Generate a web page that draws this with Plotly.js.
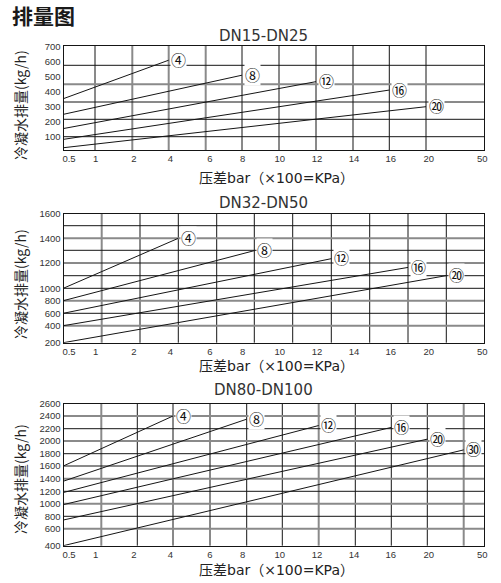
<!DOCTYPE html>
<html><head><meta charset="utf-8">
<script src="https://cdn.plot.ly/plotly-3.0.1.min.js"></script>
<style>html,body{margin:0;padding:0;background:#fff}#chart{width:501px;height:583px}</style>
</head><body><div id="chart"></div>
<script>
// ================= DATA =================
const startPressure = 0.5; // bar – every curve starts here

// DN15-DN25
const dn15Labels = ['④', '⑧', '⑫', '⑯', '⑳'];
const dn15EndPressure = [4, 8, 12, 16, 20];
const dn15StartFlow = [355, 250, 155, 83, 27];
const dn15EndFlow = [610, 510, 467, 411, 300];

// DN32-DN50
const dn32Labels = ['④', '⑧', '⑫', '⑯', '⑳'];
const dn32EndPressure = [4, 8, 12, 16, 20];
const dn32StartFlow = [1000, 800, 600, 400, 200];
const dn32EndFlow = [1400, 1300, 1235, 1165, 1100];

// DN80-DN100
const dn80Labels = ['④', '⑧', '⑫', '⑯', '⑳', '㉚'];
const dn80EndPressure = [4, 8, 12, 16, 20, 30];
const dn80StartFlow = [1600, 1360, 1180, 985, 740, 400];
const dn80EndFlow = [2400, 2350, 2250, 2220, 2030, 1860];

// tick labels
const xTickText = ['0.5', '1', '2', '4', '6', '8', '10', '12', '14', '16', '20', '50'];
const dn15YTicks = [100, 200, 300, 400, 500, 600, 700];
const dn32YTicks = [200, 400, 600, 800, 1000, 1200, 1400, 1600];
const dn80YTicks = [400, 600, 800, 1000, 1200, 1400, 1600, 1800, 2000, 2200, 2400, 2600];

const mainTitle = '排量图';
const xTitle = '压差bar（×100=KPa）';
const yTitle = '冷凝水排量(kg/h)';

// ================= LAYOUT GEOMETRY (page pixels) =================
const W = 501, H = 583;
const PLOT_LEFT = 63.5, PLOT_RIGHT = 484;
const X_TICK_LABEL_POS = [69, 95.7, 134, 170.3, 210, 242.7, 279.7, 317, 354, 390.7, 428.7, 482.3];

const panels = [
  {
    title: 'DN15-DN25', labels: dn15Labels, endP: dn15EndPressure, start: dn15StartFlow, end: dn15EndFlow,
    yTicks: dn15YTicks, top: 46, bottom: 150, titleY: 36, xTitleY: 178.3, yTitleY: 105,
    // piecewise scale knots: pressure -> px
    xKnotP: [0.5, 1, 2, 4, 6, 8, 10, 12, 14, 16, 20, 50],
    xKnotPos: [64, 95, 132.3, 168.7, 205.7, 242, 279, 316, 353, 389.3, 426, 484],
    xGridGray: [2, 4, 6, 14],
    // flow -> px
    yKnotV: [100, 700], yKnotPos: [136.7, 46.7],
    yGridPos: [65.3, 84.3, 102, 119.3, 136.7], yGridGray: [84.3]
  },
  {
    title: 'DN32-DN50', labels: dn32Labels, endP: dn32EndPressure, start: dn32StartFlow, end: dn32EndFlow,
    yTicks: dn32YTicks, top: 214, bottom: 342.7, titleY: 203.3, xTitleY: 366, yTitleY: 284,
    xKnotP: [0.5, 1, 2, 4, 6, 8, 10, 12, 14, 16, 20, 50],
    xKnotPos: [63.3, 101.7, 140, 178.3, 216.7, 254.3, 292.7, 331.3, 369.7, 408, 446.3, 484.3],
    xGridGray: [1, 2],
    yKnotV: [200, 400, 600, 800, 1000, 1200, 1400, 1600],
    yKnotPos: [342.7, 325.7, 313.3, 300.7, 288.3, 263, 238.3, 214],
    yGridPos: [225.7, 238.3, 250.3, 263, 275.7, 288.3, 300.7, 313.3, 325.7], yGridGray: [238.3, 300.7, 325.7]
  },
  {
    title: 'DN80-DN100', labels: dn80Labels, endP: dn80EndPressure, start: dn80StartFlow, end: dn80EndFlow,
    yTicks: dn80YTicks, top: 404, bottom: 545.7, titleY: 390, xTitleY: 570, yTitleY: 479,
    xKnotP: [0.5, 1, 2, 4, 6, 8, 10, 12, 14, 16, 20, 30, 50],
    xKnotPos: [63.3, 101.3, 137.3, 173, 210, 246.7, 282.3, 318.7, 355.3, 391.3, 427.3, 463.7, 483],
    xGridGray: [1, 12, 30],
    yKnotV: [400, 600, 800, 1000, 1200, 1400, 1600, 1800, 2000, 2200, 2400, 2600],
    yKnotPos: [545.7, 528.7, 516.3, 503.7, 491.3, 478.7, 466, 453.7, 441, 428.7, 416, 404],
    yGridPos: [416, 428.7, 441, 453.7, 466, 478.7, 491.3, 503.7, 516.3, 528.7], yGridGray: [416, 441, 478.7, 503.7, 528.7]
  }
];

// piecewise-linear scale with linear extrapolation
function scale(knots, pos) {
  return function (v) {
    let i = 0;
    while (i < knots.length - 2 && v > knots[i + 1]) i++;
    const t = (v - knots[i]) / (knots[i + 1] - knots[i]);
    return pos[i] + t * (pos[i + 1] - pos[i]);
  };
}

const BLACK = '#151515', GRAY = '#8a8a8a';
const TEXT = '#222';
const CJK = 'Noto Sans CJK SC, Noto Sans, sans-serif';
const traces = [], shapes = [], annotations = [];
const layout = {
  width: W, height: H, margin: {l: 0, r: 0, t: 0, b: 0},
  paper_bgcolor: '#fff', plot_bgcolor: '#fff', showlegend: false,
  font: {family: 'Liberation Sans, Arial, sans-serif', color: TEXT}
};

panels.forEach((p, k) => {
  const n = k === 0 ? '' : String(k + 1);
  const xa = 'x' + n, ya = 'y' + n;
  const xMap = scale(p.xKnotP, p.xKnotPos);
  const yMap = scale(p.yKnotV, p.yKnotPos);

  layout['xaxis' + n] = {
    domain: [PLOT_LEFT / W, PLOT_RIGHT / W], range: [PLOT_LEFT, PLOT_RIGHT], anchor: ya,
    showgrid: false, zeroline: false, showline: true, mirror: true, linecolor: BLACK, linewidth: 1,
    tickmode: 'array', tickvals: X_TICK_LABEL_POS, ticktext: xTickText, ticks: '',
    tickfont: {family: 'Liberation Sans, Arial, sans-serif', size: 9.5, color: '#333'}, fixedrange: true
  };
  layout['yaxis' + n] = {
    domain: [1 - p.bottom / H, 1 - p.top / H], range: [p.bottom, p.top], anchor: xa,
    showgrid: false, zeroline: false, showline: true, mirror: true, linecolor: BLACK, linewidth: 1,
    tickmode: 'array', tickvals: p.yTicks.map(yMap), ticktext: p.yTicks.map(String), ticks: '',
    tickfont: {family: 'Liberation Sans, Arial, sans-serif', size: 9.5, color: '#333'}, fixedrange: true
  };

  // vertical grid lines (interior knots)
  p.xKnotPos.slice(1, -1).forEach((pos, i) => {
    const gray = p.xGridGray.includes(p.xKnotP[i + 1]);
    shapes.push({type: 'line', xref: xa, yref: ya + ' domain', x0: pos, x1: pos, y0: 0, y1: 1, layer: 'below',
      line: {color: gray ? GRAY : BLACK, width: gray ? 2 : 1}});
  });
  // horizontal grid lines
  p.yGridPos.forEach(pos => {
    const gray = p.yGridGray.includes(pos);
    shapes.push({type: 'line', xref: xa + ' domain', yref: ya, x0: 0, x1: 1, y0: pos, y1: pos, layer: 'below',
      line: {color: gray ? GRAY : BLACK, width: gray ? 2 : 1}});
  });

  // curves
  p.endP.forEach((ep, i) => {
    const xs = [xMap(startPressure), xMap(ep)];
    const ys = [yMap(p.start[i]), yMap(p.end[i])];
    traces.push({type: 'scatter', mode: 'lines', xaxis: xa, yaxis: ya, x: xs, y: ys,
      line: {color: BLACK, width: 1}, hoverinfo: 'skip'});
    annotations.push({xref: xa, yref: ya, x: xs[1], y: ys[1], text: p.labels[i], showarrow: false,
      xanchor: 'center', yanchor: 'middle', xshift: 10, yshift: 1, bgcolor: '#fff', borderpad: 0,
      font: {family: CJK, size: 15, color: '#111'}});
  });

  // panel title
  annotations.push({xref: 'paper', yref: 'paper', x: 263.5 / W, y: 1 - p.titleY / H, text: p.title,
    showarrow: false, xanchor: 'center', yanchor: 'middle',
    font: {family: 'DejaVu Sans, sans-serif', size: 15, color: '#333'}});
  // x-axis title
  annotations.push({xref: 'paper', yref: 'paper', x: 276.7 / W, y: 1 - p.xTitleY / H, text: xTitle,
    showarrow: false, xanchor: 'center', yanchor: 'middle',
    font: {family: 'DejaVu Sans, Noto Sans CJK SC, sans-serif', size: 14, color: TEXT}});
  // y-axis title
  annotations.push({xref: 'paper', yref: 'paper', x: 20 / W, y: 1 - p.yTitleY / H, text: yTitle,
    showarrow: false, xanchor: 'center', yanchor: 'middle', textangle: -90,
    font: {family: CJK, size: 14, color: TEXT}});
});

annotations.push({xref: 'paper', yref: 'paper', x: 10 / W, y: 1 - 15.5 / H, text: '<b>' + mainTitle + '</b>',
  showarrow: false, xanchor: 'left', yanchor: 'middle', font: {family: CJK, size: 21, color: '#1a1a1a'}});

layout.shapes = shapes;
layout.annotations = annotations;
Plotly.newPlot('chart', traces, layout, {staticPlot: true, displayModeBar: false});
</script></body></html>
